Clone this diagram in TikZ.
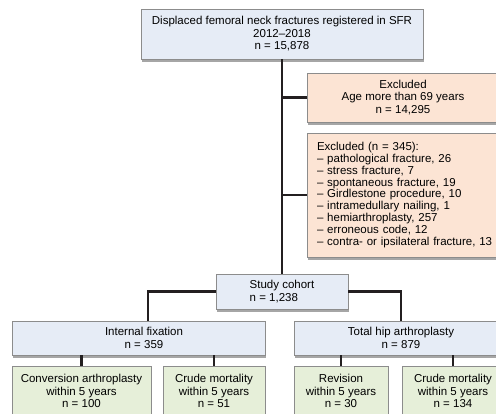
\documentclass[tikz,border=0pt]{standalone}
\usepackage{fontspec}
\setmainfont{Liberation Sans}
\usetikzlibrary{shadows,calc}
\definecolor{boxblue}{HTML}{E6ECF6}
\definecolor{boxpeach}{HTML}{FCE4D4}
\definecolor{boxgreen}{HTML}{E6EFD9}
\definecolor{boxline}{HTML}{8C8C8C}
\definecolor{connline}{HTML}{231F20}
\tikzset{
  fbox/.style={draw=boxline, line width=0.7pt, inner sep=0pt, align=center,
    font=\fontsize{11.5}{12.5}\selectfont,
    drop shadow={shadow xshift=1.2pt, shadow yshift=-2.8pt, fill=black, opacity=0.35}},
  bluebox/.style={fbox, fill=boxblue},
  peachbox/.style={fbox, fill=boxpeach},
  greenbox/.style={fbox, fill=boxgreen},
  conn/.style={draw=connline, line width=2.6pt}
}
\begin{document}
\begin{tikzpicture}[x=1pt,y=-1pt]
\useasboundingbox (0,0) rectangle (496,413);
\clip (0,0) rectangle (496,413);
\fill[white] (0,0) rectangle (496,413);
% boxes
\node[bluebox, minimum width=282pt, minimum height=50pt] (top) at (282,34)
  {Displaced femoral neck fractures registered in SFR\\2012–2018\\n = 15,878};
\node[peachbox, minimum width=192pt, minimum height=49pt] (ex1) at (403,97.5)
  {Excluded\\Age more than 69 years\\n = 14,295};
\node[peachbox, minimum width=196pt, minimum height=124pt, text width=176pt, align=left,
  font=\fontsize{11.5}{11.9}\selectfont] (ex2) at (405,195)
  {Excluded (n = 345):\\
   – pathological fracture, 26\\
   – stress fracture, 7\\
   – spontaneous fracture, 19\\
   – Girdlestone procedure, 10\\
   – intramedullary nailing, 1\\
   – hemiarthroplasty, 257\\
   – erroneous code, 12\\
   – contra- or ipsilateral fracture, 13};
\node[bluebox, minimum width=132pt, minimum height=35pt, align=left] (study) at (282,291.5)
  {Study cohort\\n = 1,238};
\node[bluebox, minimum width=253pt, minimum height=34pt] (if) at (138.5,338)
  {\hspace*{11pt}Internal fixation\\\hspace*{11pt}n = 359};
\node[bluebox, minimum width=214pt, minimum height=34pt] (tha) at (401,338)
  {Total hip arthroplasty\\n = 879};
\node[greenbox, minimum width=139pt, minimum height=50pt] (conv) at (81.5,391)
  {Conversion arthroplasty\\within 5 years\\n = 100};
\node[greenbox, minimum width=102pt, minimum height=50pt] (mort1) at (214,391)
  {Crude mortality\\within 5 years\\n = 51};
\node[greenbox, minimum width=94pt, minimum height=50pt] (rev) at (341,391)
  {Revision\\within 5 years\\n = 30};
\node[greenbox, minimum width=102pt, minimum height=50pt] (mort2) at (453,391)
  {Crude mortality\\within 5 years\\n = 134};
% connectors
\draw[conn] (top.south) -- (study.north);
\draw[conn] (ex1.west) -- (ex1.west -| top.south);
\draw[conn] (ex2.west) -- (ex2.west -| top.south);
\draw[conn] (study.west) -| ([xshift=9.5pt]if.north);
\draw[conn] (study.east) -| (tha.north);
\draw[conn] (conv.north) -- (conv.north |- if.south);
\draw[conn] (mort1.north) -- (mort1.north |- if.south);
\draw[conn] (rev.north) -- (rev.north |- tha.south);
\draw[conn] (mort2.north) -- (mort2.north |- tha.south);
\end{tikzpicture}
\end{document}
